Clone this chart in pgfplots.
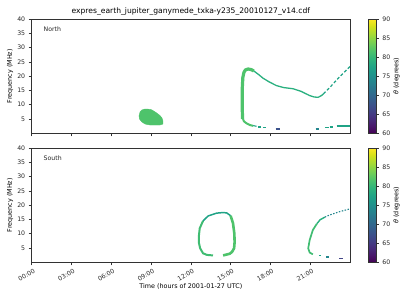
\documentclass[border=0pt]{standalone}
\usepackage{pgfplots}
\pgfplotsset{compat=1.18}
\usepackage{fontspec}
\setmainfont{DejaVu Sans}
\definecolor{cGreen}{RGB}{78,195,107}
\definecolor{cGreenB}{RGB}{64,188,114}
\definecolor{cTealG}{RGB}{42,176,127}
\definecolor{cTeal}{RGB}{32,163,134}
\definecolor{cBlueTeal}{RGB}{36,134,142}
\definecolor{cDark}{RGB}{59,82,139}
\definecolor{cDarker}{RGB}{65,68,135}
\definecolor{frm}{RGB}{50,50,50}
\newcommand{\tk}{\fontsize{6.2}{7}\selectfont}
\newcommand{\lb}{\fontsize{6.4}{7}\selectfont}
\pgfplotsset{
  myax/.style={
    scale only axis, width=318.3pt, height=114.3pt,
    xmin=0, xmax=24, ymin=0, ymax=40,
    xtick={0,3,...,21}, ytick={5,10,...,40},
    tick pos=left, tick align=outside, major tick length=3pt,
    every tick/.style={frm, line width=0.6pt},
    axis line style={frm, line width=0.6pt},
    ticklabel style={font=\tk, text=black!85},
    /pgf/number format/assume math mode=true,
    ylabel={Frequency (MHz)},
    ylabel style={font=\lb, at={(axis description cs:-0.068,0.5)}, anchor=center},
    colorbar, colormap/viridis, point meta min=60, point meta max=90,
    colorbar style={
      at={(parent axis.north east)}, anchor=north west, xshift=10pt,
      scale only axis, width=7.3pt, height=114.3pt,
      ytick={60,65,...,90}, yticklabel pos=right, ytick pos=right,
      tick align=outside, major tick length=3pt,
      every tick/.style={frm, line width=0.6pt},
      axis line style={frm, line width=0.6pt},
      yticklabel style={font=\tk, text=black!85},
      /pgf/number format/assume math mode=true,
      ylabel={\textit{θ} (degrees)},
      ylabel style={font=\lb, at={(axis description cs:3.84,0.5)}, anchor=center},
    },
  }
}
\begin{document}
\begin{tikzpicture}
\useasboundingbox (0pt,0pt) rectangle (400pt,300pt);
% ---------------- North ----------------
\begin{axis}[myax, at={(31.7pt,166.7pt)}, anchor=south west, xticklabels={},
  title={expres\_earth\_jupiter\_ganymede\_txka-y235\_20010127\_v14.cdf},
  title style={font=\fontsize{7.6}{8}\selectfont, at={(axis description cs:0.5,1)}, anchor=center, yshift=1pt}]
% blob
\addplot[cGreen, fill=cGreen, line width=0.4pt] coordinates {
 (8.09,6.06)(8.17,7.46)(8.31,8.16)(8.54,8.5)(8.92,8.4)(9.07,8.16)(9.37,7.28)(9.67,6.23)
 (9.82,5.36)(9.90,4.30)(9.90,3.26)(9.67,2.90)(8.92,2.90)(8.54,3.26)(8.29,4.06)(8.13,5.00)(8.09,6.06)};
% thick band
\addplot[cGreen, line width=3.2pt, line join=round] coordinates {
 (15.90,5.0)(15.88,8)(15.88,16)(15.92,19.5)(16.00,21.3)(16.12,22.2)(16.33,22.5)(16.55,22.3)(16.75,21.8)};
\addplot[cGreen, line width=2pt, line join=round] coordinates {
 (15.90,5.5)(16.00,4.2)(16.20,3.5)(16.45,2.9)(16.70,2.6)};
% thin upper branch
\addplot[cTealG, line width=1.3pt, line join=round] coordinates {
 (16.75,21.8)(17.10,20.6)(17.44,19.3)(17.90,18.0)(18.45,16.7)(19.00,16.0)(19.70,15.6)
 (20.30,14.7)(20.96,13.2)(21.30,12.7)(21.60,12.6)(21.85,13.2)(22.00,13.8)};
\addplot[cTeal, line width=1.2pt, dash pattern=on 3pt off 2pt] coordinates {
 (22.00,13.8)(22.45,15.9)(23.20,19.7)(24.00,23.4)};
% bottom dashes
\addplot[cTeal, line width=1.1pt] coordinates {(16.70,2.7)(16.95,2.45)};
\addplot[cTeal, line width=1.1pt] coordinates {(17.05,2.2)(17.26,2.2)};
\addplot[cTeal, line width=1.1pt] coordinates {(17.44,1.9)(17.70,1.9)};
\addplot[cDark, line width=1.1pt] coordinates {(18.40,1.5)(18.75,1.5)};
\addplot[cBlueTeal, line width=1.1pt] coordinates {(21.40,1.5)(21.70,1.5)};
\addplot[cTeal, line width=1.1pt] coordinates {(22.10,1.9)(22.40,1.9)};
\addplot[cTeal, line width=1.1pt] coordinates {(22.47,2.2)(22.70,2.2)};
\addplot[cTeal, line width=1.1pt] coordinates {(23.00,2.55)(24.00,2.55)};
\node[anchor=west, inner sep=0pt, font=\tk, text=black!85] at (rel axis cs:0.037,0.91) {North};
\end{axis}
% ---------------- South ----------------
\begin{axis}[myax, at={(31.7pt,37.7pt)}, anchor=south west,
  xticklabels={00:00,03:00,06:00,09:00,12:00,15:00,18:00,21:00},
  xticklabel style={rotate=30, anchor=north east, inner sep=0pt, yshift=-3pt},
  xlabel={Time (hours of 2001-01-27 UTC)},
  xlabel style={font=\lb, at={(axis description cs:0.5,-0.213)}, anchor=center}]
% loop 1
\addplot[cGreenB, line width=2pt, line join=round] coordinates {
 (13.67,2.4)(13.20,2.6)(12.92,3.15)(12.70,4.9)(12.60,7)(12.60,9)(12.67,11.9)(12.92,14.5)};
\addplot[cTeal, line width=1.5pt, line join=round] coordinates {
 (12.92,14.5)(13.30,16.2)(13.93,17.2)(14.40,17.4)(14.70,17.3)(15.00,16.3)};
\addplot[cGreen, line width=2.6pt, line join=round] coordinates {
 (15.00,16.3)(15.18,13.65)(15.28,10)(15.30,7)(15.26,4.9)(15.10,3.6)(14.93,3.0)(14.43,2.4)};
% loop 2
\addplot[cGreenB, line width=1.7pt, line join=round] coordinates {
 (21.20,2.8)(20.96,3.4)(20.85,4.9)(20.96,7.8)(21.20,11.3)(21.50,13.5)};
\addplot[cTealG, line width=1.4pt, line join=round] coordinates {
 (21.50,13.5)(21.75,14.9)(22.10,15.8)};
\addplot[cBlueTeal, line width=1.1pt, dash pattern=on 1.5pt off 1.5pt] coordinates {
 (22.10,15.8)(22.46,16.55)(23.20,17.7)(24.00,18.7)};
\addplot[cTeal, line width=1.1pt] coordinates {(21.66,2.3)(21.84,2.3)};
\addplot[cBlueTeal, line width=1.1pt] coordinates {(22.21,1.86)(22.39,1.86)};
\addplot[cDarker, line width=1.1pt] coordinates {(23.20,1.4)(23.50,1.4)};
\node[anchor=west, inner sep=0pt, font=\tk, text=black!85] at (rel axis cs:0.037,0.91) {South};
\end{axis}
\end{tikzpicture}
\end{document}
